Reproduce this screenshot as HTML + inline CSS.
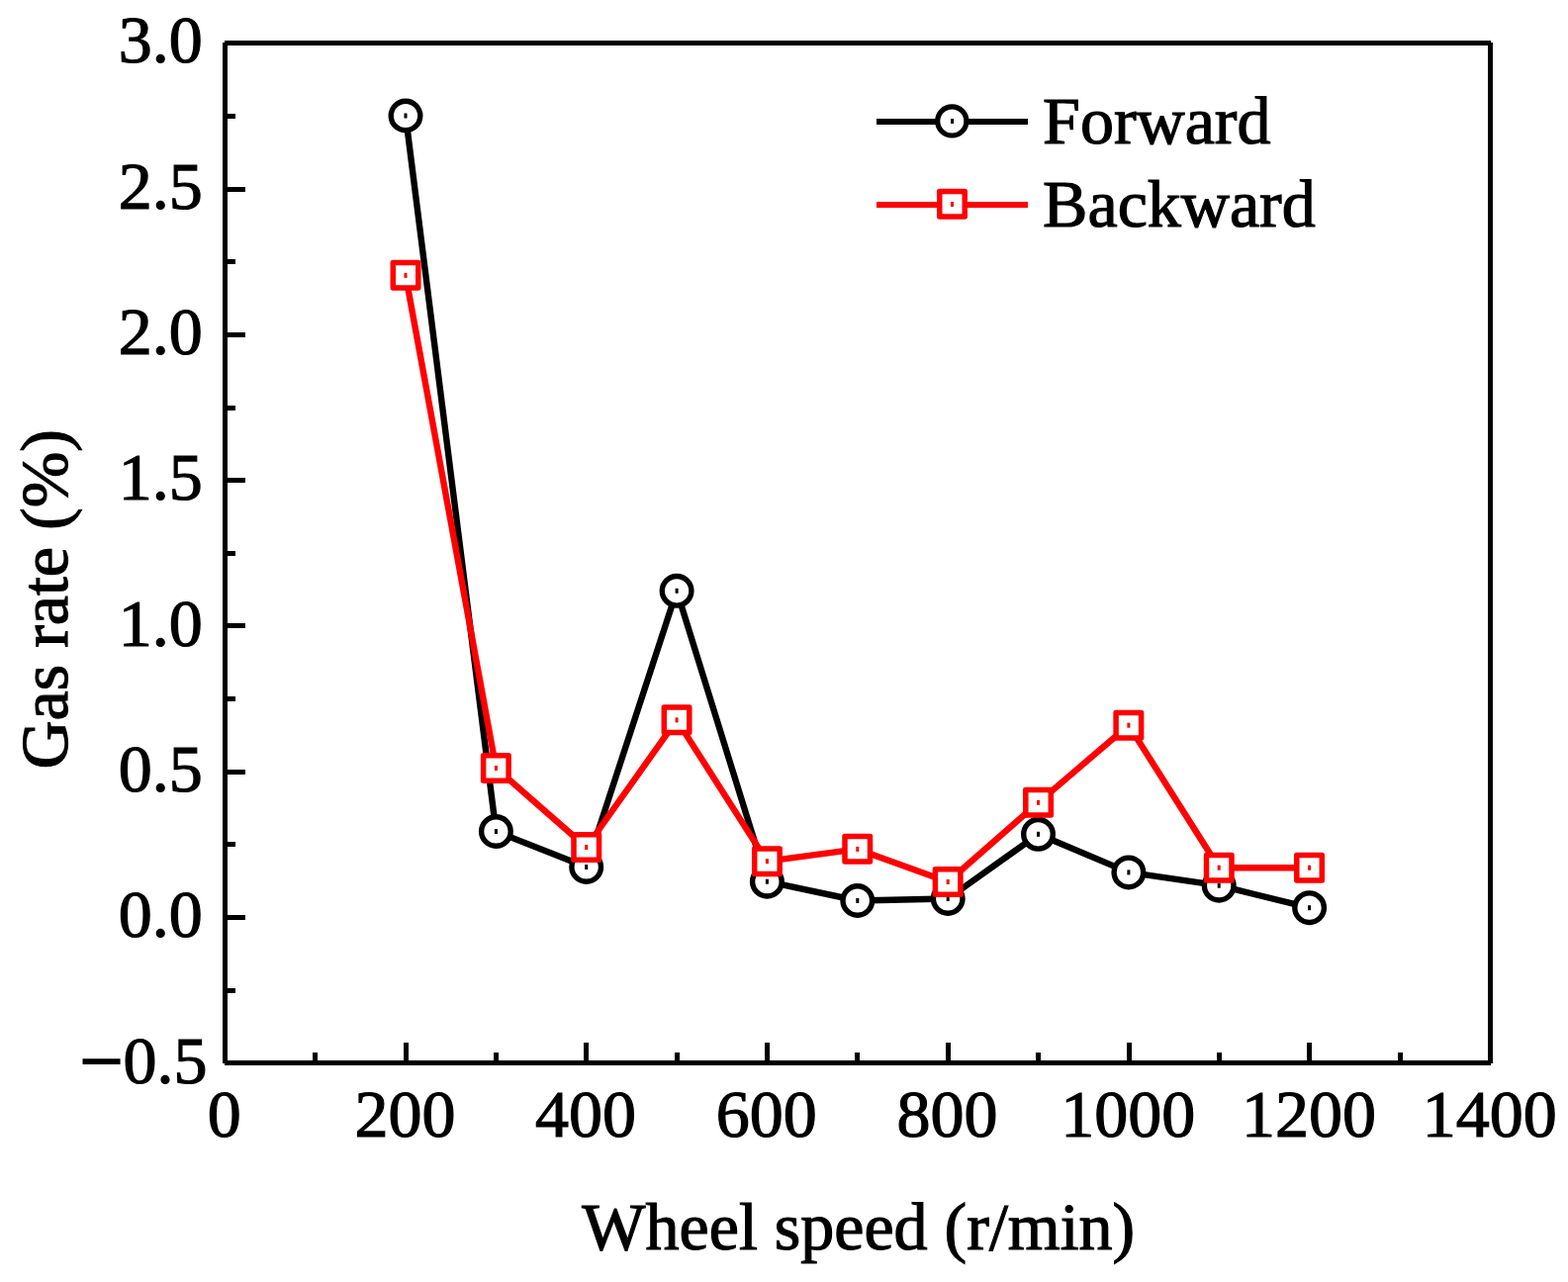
<!DOCTYPE html>
<html><head><meta charset="utf-8"><title>Gas rate vs wheel speed</title>
<style>
html,body{margin:0;padding:0;background:#fff;overflow:hidden;}
svg{display:block;}
text{font-family:"Liberation Serif","Times New Roman",serif;fill:#000;stroke:#000;stroke-width:1.2px;}
</style></head>
<body>
<svg width="1585" height="1296" viewBox="0 0 1585 1296">
<rect x="0" y="0" width="1585" height="1296" fill="#fff"/>
<g fill="#000" shape-rendering="crispEdges"><rect x="316" y="1064" width="5" height="9"/><rect x="408" y="1054" width="5" height="19"/><rect x="499" y="1064" width="5" height="9"/><rect x="590" y="1054" width="5" height="19"/><rect x="682" y="1064" width="5" height="9"/><rect x="773" y="1054" width="5" height="19"/><rect x="864" y="1064" width="5" height="9"/><rect x="956" y="1054" width="5" height="19"/><rect x="1047" y="1064" width="5" height="9"/><rect x="1139" y="1054" width="5" height="19"/><rect x="1230" y="1064" width="5" height="9"/><rect x="1321" y="1054" width="5" height="19"/><rect x="1413" y="1064" width="5" height="9"/><rect x="229" y="115" width="9" height="5"/><rect x="229" y="189" width="19" height="5"/><rect x="229" y="262" width="9" height="5"/><rect x="229" y="336" width="19" height="5"/><rect x="229" y="410" width="9" height="5"/><rect x="229" y="483" width="19" height="5"/><rect x="229" y="557" width="9" height="5"/><rect x="229" y="630" width="19" height="5"/><rect x="229" y="704" width="9" height="5"/><rect x="229" y="778" width="19" height="5"/><rect x="229" y="851" width="9" height="5"/><rect x="229" y="925" width="19" height="5"/><rect x="229" y="999" width="9" height="5"/></g>
<g fill="#000"><rect x="227" y="41" width="1280" height="5"/><rect x="225" y="43" width="5" height="1032"/><rect x="1504" y="43" width="5" height="1032"/><rect x="227" y="1072" width="1280" height="5"/></g>
<g font-size="68" text-anchor="end">
<text x="204.8" y="63.4">3.0</text>
<text x="204.8" y="210.7">2.5</text>
<text x="204.8" y="358.0">2.0</text>
<text x="204.8" y="505.3">1.5</text>
<text x="204.8" y="652.6">1.0</text>
<text x="204.8" y="799.9">0.5</text>
<text x="204.8" y="947.1">0.0</text>
<text x="209.5" y="1095.0"><tspan font-size="78" dy="3.8" stroke-width="1.8">−</tspan><tspan dy="-3.8">0.5</tspan></text>
</g>
<g font-size="68" text-anchor="middle">
<text x="226.7" y="1149">0</text>
<text x="409.4" y="1149">200</text>
<text x="592.1" y="1149">400</text>
<text x="774.8" y="1149">600</text>
<text x="957.6" y="1149">800</text>
<text x="1140.3" y="1149">1000</text>
<text x="1323.0" y="1149">1200</text>
<text x="1505.7" y="1149">1400</text>
</g>
<text x="867.8" y="1262.5" font-size="68" text-anchor="middle">Wheel speed (r/min)</text>
<text transform="translate(68 605.8) rotate(-90)" font-size="68" text-anchor="middle">Gas rate (%)</text>
<polyline points="410.0,117.0 501.4,840.5 592.7,876.5 684.1,597.3 775.4,891.2 866.8,910.5 958.2,908.5 1049.5,843.3 1140.9,881.9 1232.2,895.2 1323.6,917.7" stroke="#000" stroke-width="6.4" fill="none" stroke-linejoin="round"/>
<circle cx="410.0" cy="117.0" r="14.8" fill="#fff" stroke="#000" stroke-width="5.4"/><rect x="408.5" y="114.5" width="3" height="5" fill="#000"/>
<circle cx="501.4" cy="840.5" r="14.8" fill="#fff" stroke="#000" stroke-width="5.4"/><rect x="499.9" y="838.0" width="3" height="5" fill="#000"/>
<circle cx="592.7" cy="876.5" r="14.8" fill="#fff" stroke="#000" stroke-width="5.4"/><rect x="591.2" y="874.0" width="3" height="5" fill="#000"/>
<circle cx="684.1" cy="597.3" r="14.8" fill="#fff" stroke="#000" stroke-width="5.4"/><rect x="682.6" y="594.8" width="3" height="5" fill="#000"/>
<circle cx="775.4" cy="891.2" r="14.8" fill="#fff" stroke="#000" stroke-width="5.4"/><rect x="773.9" y="888.7" width="3" height="5" fill="#000"/>
<circle cx="866.8" cy="910.5" r="14.8" fill="#fff" stroke="#000" stroke-width="5.4"/><rect x="865.3" y="908.0" width="3" height="5" fill="#000"/>
<circle cx="958.2" cy="908.5" r="14.8" fill="#fff" stroke="#000" stroke-width="5.4"/><rect x="956.7" y="906.0" width="3" height="5" fill="#000"/>
<circle cx="1049.5" cy="843.3" r="14.8" fill="#fff" stroke="#000" stroke-width="5.4"/><rect x="1048.0" y="840.8" width="3" height="5" fill="#000"/>
<circle cx="1140.9" cy="881.9" r="14.8" fill="#fff" stroke="#000" stroke-width="5.4"/><rect x="1139.4" y="879.4" width="3" height="5" fill="#000"/>
<circle cx="1232.2" cy="895.2" r="14.8" fill="#fff" stroke="#000" stroke-width="5.4"/><rect x="1230.7" y="892.7" width="3" height="5" fill="#000"/>
<circle cx="1323.6" cy="917.7" r="14.8" fill="#fff" stroke="#000" stroke-width="5.4"/><rect x="1322.1" y="915.2" width="3" height="5" fill="#000"/>
<polyline points="410.0,278.4 501.4,776.5 592.7,856.5 684.1,727.9 775.4,870.7 866.8,858.4 958.2,891.5 1049.5,811.3 1140.9,733.2 1232.2,877.2 1323.6,877.2" stroke="#f00" stroke-width="6.4" fill="none" stroke-linejoin="round"/>
<rect x="397.3" y="265.6" width="25.5" height="25.5" fill="#fff" stroke="#f00" stroke-width="5.5" stroke-linejoin="round"/><rect x="408.5" y="275.9" width="3" height="5" fill="#f00"/>
<rect x="488.6" y="763.8" width="25.5" height="25.5" fill="#fff" stroke="#f00" stroke-width="5.5" stroke-linejoin="round"/><rect x="499.9" y="774.0" width="3" height="5" fill="#f00"/>
<rect x="580.0" y="843.8" width="25.5" height="25.5" fill="#fff" stroke="#f00" stroke-width="5.5" stroke-linejoin="round"/><rect x="591.2" y="854.0" width="3" height="5" fill="#f00"/>
<rect x="671.3" y="715.1" width="25.5" height="25.5" fill="#fff" stroke="#f00" stroke-width="5.5" stroke-linejoin="round"/><rect x="682.6" y="725.4" width="3" height="5" fill="#f00"/>
<rect x="762.7" y="858.0" width="25.5" height="25.5" fill="#fff" stroke="#f00" stroke-width="5.5" stroke-linejoin="round"/><rect x="773.9" y="868.2" width="3" height="5" fill="#f00"/>
<rect x="854.0" y="845.6" width="25.5" height="25.5" fill="#fff" stroke="#f00" stroke-width="5.5" stroke-linejoin="round"/><rect x="865.3" y="855.9" width="3" height="5" fill="#f00"/>
<rect x="945.4" y="878.8" width="25.5" height="25.5" fill="#fff" stroke="#f00" stroke-width="5.5" stroke-linejoin="round"/><rect x="956.7" y="889.0" width="3" height="5" fill="#f00"/>
<rect x="1036.8" y="798.5" width="25.5" height="25.5" fill="#fff" stroke="#f00" stroke-width="5.5" stroke-linejoin="round"/><rect x="1048.0" y="808.8" width="3" height="5" fill="#f00"/>
<rect x="1128.1" y="720.5" width="25.5" height="25.5" fill="#fff" stroke="#f00" stroke-width="5.5" stroke-linejoin="round"/><rect x="1139.4" y="730.7" width="3" height="5" fill="#f00"/>
<rect x="1219.5" y="864.5" width="25.5" height="25.5" fill="#fff" stroke="#f00" stroke-width="5.5" stroke-linejoin="round"/><rect x="1230.7" y="874.7" width="3" height="5" fill="#f00"/>
<rect x="1310.8" y="864.5" width="25.5" height="25.5" fill="#fff" stroke="#f00" stroke-width="5.5" stroke-linejoin="round"/><rect x="1322.1" y="874.7" width="3" height="5" fill="#f00"/>
<path d="M886 123H1039" stroke="#000" stroke-width="6"/>
<circle cx="962.3" cy="122.4" r="14.6" fill="#fff" stroke="#000" stroke-width="5.2"/><rect x="961" y="120" width="3" height="5" fill="#000"/>
<path d="M886 207H1039" stroke="#f00" stroke-width="6"/>
<rect x="949.75" y="193.5" width="25.5" height="25.5" fill="#fff" stroke="#f00" stroke-width="5.5" stroke-linejoin="round"/><rect x="961" y="204" width="3" height="5" fill="#f00"/>
<text x="1054.1" y="144.6" font-size="68">Forward</text>
<text x="1054.1" y="229" font-size="68">Backward</text>
</svg>
</body></html>
